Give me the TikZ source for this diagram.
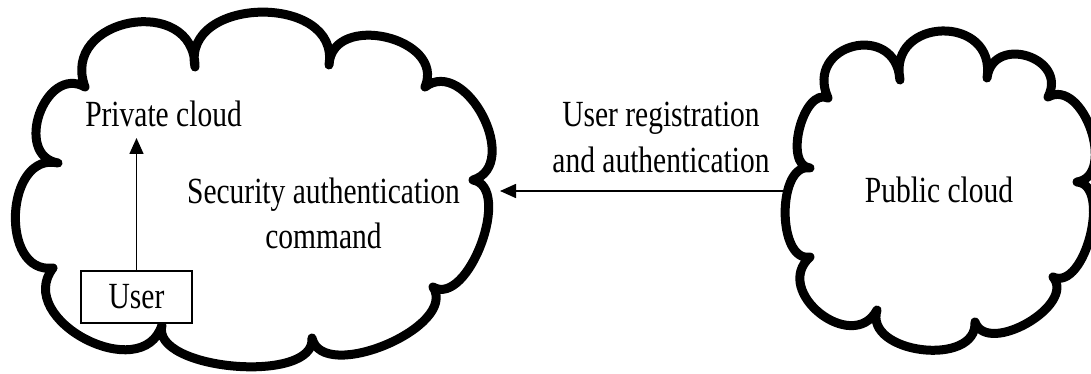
\documentclass[tikz,border=0pt]{standalone}
\usepackage{fontspec}
\setmainfont{Liberation Serif}
\usetikzlibrary{arrows.meta}
\newcommand\vs[1]{\scalebox{1}[1.25]{#1}}
\begin{document}
\begin{tikzpicture}[x=1pt,y=-1pt,
  cloud/.style={line width=9pt,line join=round,draw=black},
  pf/.style={bend left=100,looseness=#1},
  lbl/.style={font=\fontsize{29.5}{45}\selectfont,inner sep=0pt,align=center},
  arr/.style={line width=1.6pt,-{Triangle[length=16pt,width=14pt]}},
  userbox/.style={draw,fill=white,line width=1.3pt,minimum width=111pt,minimum height=52pt,inner sep=0pt,font=\fontsize{29.5}{36}\selectfont}
]
\useasboundingbox (0,0) rectangle (1091,374);
% private cloud
\draw[cloud] (58,163) to[pf=1.46] (85,87) to[pf=1.70] (195,67) to[pf=1.39] (329,65)
  to[pf=1.40] (425,87) to[pf=1.26] (473,180) to[pf=0.91] (433,287) to[pf=0.92] (312,338)
  to[pf=0.80] (162,325) to[pf=1.35] (53,268) to[pf=1.32] cycle;
% public cloud
\draw[cloud] (810,168) to[pf=0.96] (828,98) to[pf=2.05] (900,80) to[pf=1.91] (987,78)
  to[pf=1.79] (1048,97) to[pf=1.16] (1077,182) to[pf=0.92] (1053,277) to[pf=1.04] (975,322)
  to[pf=1.19] (877,310) to[pf=1.54] (810,257) to[pf=0.97] cycle;
% texts
\node[lbl,anchor=base] (priv) at (163.5,127) {\vs{Private cloud}};
\node[lbl,anchor=base] (sec) at (323.5,248) {\vs{Security authentication}\\\vs{command}};
\node[lbl,anchor=base] (reg) at (661,172) {\vs{User registration}\\\vs{and authentication}};
\node[lbl,anchor=base] (pub) at (939,202) {\vs{Public cloud}};
\node[userbox] (user) at (136.5,297) {\vs{User}};
% connectors
\coordinate (privtip) at (136.5,138);
\coordinate (pubedge) at (783,191);
\coordinate (privedge) at (500,191);
\draw[arr] (user.north) -- (privtip);
\draw[arr] (pubedge) -- (privedge);
\end{tikzpicture}
\end{document}
